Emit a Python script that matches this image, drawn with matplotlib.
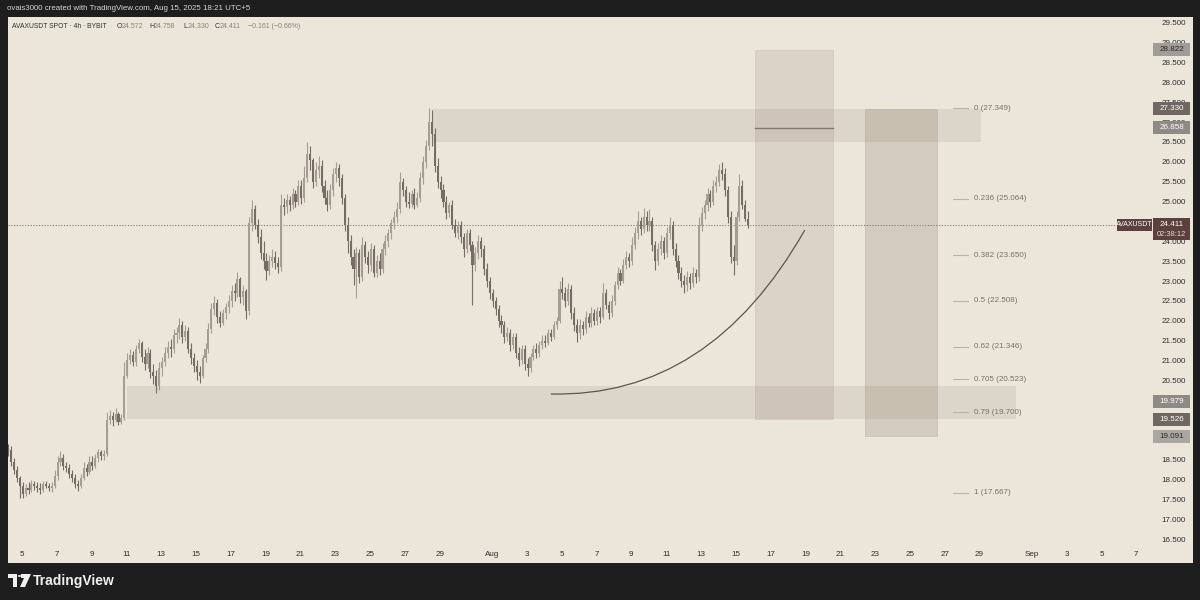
import matplotlib
matplotlib.use('Agg')
import matplotlib.pyplot as plt
import matplotlib.dates as mdates
import matplotlib.patches as mpatches
from matplotlib.path import Path
from matplotlib import transforms
import numpy as np
import pandas as pd

plt.rcParams['font.family'] = ['Liberation Sans', 'DejaVu Sans']

# ---- data (AVAXUSDT, 4h candles, local time UTC+5) ----
first_open = 18.80
closes = [
    18.75, 18.45, 18.25, 18.05, 17.85,                 # Jul 4
    17.65, 17.80, 17.75, 17.90, 17.85, 17.80,          # Jul 5
    17.75, 17.90, 17.85, 17.80, 17.85, 18.10,
    18.45, 18.55, 18.35, 18.30, 18.15, 18.05,
    17.90, 17.85, 18.05, 18.30, 18.20, 18.45,
    18.35, 18.55, 18.70, 18.60, 18.65, 19.50,
    19.60, 19.50, 19.65, 19.45, 19.55, 20.60,          # Jul 10
    21.00, 21.15, 20.95, 21.30, 21.45, 21.10,
    20.90, 21.20, 20.70, 20.60, 20.35, 20.80,
    20.95, 21.20, 21.35, 21.30, 21.65, 21.70,
    21.90, 21.60, 21.75, 21.30, 21.05, 20.85,
    20.70, 20.60, 21.05, 21.30, 21.80, 22.30,          # Jul 15
    22.45, 22.10, 21.95, 22.20, 22.35, 22.50,
    22.75, 22.70, 23.05, 22.60, 22.75, 22.25,
    24.45, 24.80, 24.40, 24.10, 23.70, 23.50,
    23.25, 23.50, 23.60, 23.45, 23.35, 24.90,
    24.85, 25.05, 24.90, 25.20, 25.00, 25.40,          # Jul 20
    25.10, 25.60, 26.20, 26.05, 25.50, 25.80,
    25.90, 25.40, 25.10, 24.90, 25.30, 25.70,
    25.85, 25.60, 25.10, 24.40, 24.00, 23.60,
    23.30, 23.70, 23.10, 23.90, 23.60, 23.40,
    23.80, 23.20, 23.50, 23.30, 23.80, 24.00,          # Jul 25
    24.20, 24.45, 24.60, 24.80, 25.50, 25.30,
    25.00, 24.95, 25.20, 24.90, 25.10, 25.60,
    26.00, 26.40, 27.00, 26.70, 25.90, 25.50,
    25.30, 25.00, 24.70, 24.90, 24.40, 24.20,
    24.40, 24.10, 23.80, 24.20, 23.90, 23.40,          # Jul 30
    23.70, 24.00, 23.80, 23.30, 23.00, 22.70,
    22.50, 22.30, 22.00, 21.90, 21.60, 21.70,          # Aug 1
    21.40, 21.60, 21.20, 21.00, 21.30, 20.90,
    20.80, 21.10, 21.30, 21.20, 21.40, 21.50,
    21.45, 21.70, 21.60, 21.90, 22.00, 22.80,
    22.70, 22.50, 22.80, 22.20, 21.90, 21.70,          # Aug 5
    21.90, 21.80, 22.10, 21.95, 22.20, 22.00,
    22.25, 22.10, 22.70, 22.40, 22.20, 22.50,
    22.90, 23.20, 23.00, 23.40, 23.60, 23.50,
    23.90, 24.20, 24.50, 24.30, 24.60, 24.40,
    24.50, 23.90, 23.50, 23.80, 24.00, 23.70,          # Aug 10
    24.20, 24.40, 23.80, 23.50, 23.20, 23.00,
    22.90, 23.10, 22.95, 23.20, 23.10, 24.40,
    24.70, 24.90, 25.20, 25.00, 25.40, 25.50,
    25.80, 25.70, 25.30, 24.60, 23.60, 23.50,
    24.60, 25.40, 24.90, 24.572, 24.411,               # Aug 15
]
highs = [
    18.90, 18.85, 18.55, 18.35, 18.10,
    17.95, 17.90, 17.95, 18.00, 17.98, 17.95,
    17.92, 17.98, 17.97, 17.92, 17.95, 18.25,
    18.60, 18.72, 18.65, 18.45, 18.40, 18.25,
    18.15, 18.00, 18.15, 18.45, 18.40, 18.60,
    18.60, 18.65, 18.78, 18.75, 18.75, 19.70,
    19.75, 19.70, 19.80, 19.70, 19.65, 20.95,
    21.20, 21.30, 21.25, 21.40, 21.55, 21.50,
    21.30, 21.35, 21.30, 20.90, 20.75, 20.95,
    21.10, 21.35, 21.50, 21.55, 21.80, 21.85,
    22.07, 22.00, 21.90, 21.85, 21.45, 21.20,
    21.00, 20.85, 21.15, 21.45, 21.95, 22.45,
    22.62, 22.55, 22.25, 22.30, 22.45, 22.65,
    22.90, 22.95, 23.23, 23.10, 22.90, 22.80,
    24.60, 25.03, 24.90, 24.55, 24.30, 24.00,
    23.70, 23.65, 23.80, 23.75, 23.60, 25.20,
    25.10, 25.20, 25.15, 25.35, 25.30, 25.55,
    25.55, 25.90, 26.50, 26.40, 26.10, 26.00,
    26.15, 26.05, 25.55, 25.30, 25.45, 25.85,
    26.00, 25.95, 25.70, 25.20, 24.60, 24.15,
    23.80, 23.85, 23.80, 24.10, 24.00, 23.75,
    23.95, 23.90, 23.65, 23.70, 23.95, 24.15,
    24.30, 24.55, 24.75, 25.00, 25.74, 25.60,
    25.40, 25.25, 25.30, 25.35, 25.25, 25.75,
    26.15, 26.55, 27.35, 27.30, 26.85, 26.10,
    25.65, 25.45, 25.15, 25.00, 25.05, 24.55,
    24.50, 24.50, 24.20, 24.30, 24.30, 24.00,
    23.85, 24.15, 24.10, 23.90, 23.45, 23.10,
    22.80, 22.60, 22.40, 22.15, 22.00, 21.85,
    21.80, 21.70, 21.70, 21.35, 21.40, 21.40,
    21.05, 21.20, 21.40, 21.45, 21.50, 21.65,
    21.65, 21.80, 21.80, 22.00, 22.10, 23.00,
    23.10, 22.85, 22.95, 22.90, 22.35, 22.05,
    22.05, 22.00, 22.25, 22.20, 22.35, 22.30,
    22.35, 22.35, 22.95, 22.80, 22.50, 22.65,
    23.00, 23.35, 23.30, 23.55, 23.75, 23.70,
    24.10, 24.35, 24.75, 24.60, 24.83, 24.75,
    24.80, 24.60, 24.00, 23.95, 24.15, 24.10,
    24.35, 24.62, 24.50, 23.95, 23.65, 23.35,
    23.15, 23.25, 23.20, 23.35, 23.30, 24.60,
    24.85, 25.05, 25.35, 25.30, 25.55, 25.65,
    25.95, 26.00, 25.85, 25.40, 24.75, 23.90,
    24.75, 25.70, 25.55, 25.05, 24.758,
]
lows = [
    18.60, 18.35, 18.15, 17.95, 17.55,
    17.55, 17.60, 17.65, 17.70, 17.75, 17.68,
    17.65, 17.70, 17.78, 17.72, 17.70, 17.80,
    18.00, 18.35, 18.25, 18.20, 18.05, 17.95,
    17.80, 17.72, 17.80, 18.00, 18.10, 18.15,
    18.25, 18.30, 18.45, 18.50, 18.50, 18.60,
    19.40, 19.35, 19.45, 19.38, 19.40, 19.50,
    20.55, 20.90, 20.85, 20.85, 21.20, 20.95,
    20.75, 20.80, 20.55, 20.40, 20.17, 20.25,
    20.60, 20.85, 21.05, 21.10, 21.20, 21.45,
    21.55, 21.45, 21.50, 21.20, 20.90, 20.70,
    20.50, 20.43, 20.55, 20.95, 21.20, 21.70,
    22.15, 21.95, 21.85, 21.90, 22.05, 22.20,
    22.35, 22.50, 22.60, 22.45, 22.40, 22.05,
    22.15, 24.25, 24.30, 23.95, 23.55, 23.30,
    23.03, 23.15, 23.35, 23.30, 23.20, 23.25,
    24.65, 24.70, 24.75, 24.80, 24.85, 24.90,
    24.95, 25.00, 25.50, 25.80, 25.35, 25.40,
    25.60, 25.25, 24.95, 24.75, 24.80, 25.15,
    25.50, 25.40, 24.95, 24.25, 23.70, 23.40,
    22.90, 22.57, 22.95, 23.00, 23.45, 23.20,
    23.25, 23.10, 23.10, 23.15, 23.20, 23.65,
    23.85, 24.05, 24.30, 24.45, 24.70, 25.15,
    24.85, 24.83, 24.85, 24.80, 24.85, 25.00,
    25.45, 25.85, 26.30, 26.40, 25.75, 25.35,
    25.10, 24.85, 24.55, 24.60, 24.30, 24.10,
    24.05, 23.95, 23.60, 23.70, 23.75, 22.40,
    23.25, 23.55, 23.60, 23.15, 22.85, 22.55,
    22.35, 22.15, 21.85, 21.70, 21.45, 21.50,
    21.25, 21.30, 21.05, 20.85, 20.90, 20.75,
    20.60, 20.70, 21.00, 21.05, 21.10, 21.30,
    21.35, 21.40, 21.50, 21.55, 21.80, 21.95,
    22.55, 22.35, 22.40, 22.05, 21.75, 21.47,
    21.55, 21.65, 21.70, 21.85, 21.85, 21.90,
    21.90, 21.95, 22.05, 22.30, 22.05, 22.10,
    22.40, 22.80, 22.90, 22.95, 23.30, 23.35,
    23.40, 23.80, 24.05, 24.15, 24.20, 24.25,
    24.25, 23.75, 23.27, 23.40, 23.65, 23.55,
    23.60, 24.05, 23.65, 23.35, 23.05, 22.85,
    22.70, 22.75, 22.80, 22.85, 22.95, 23.00,
    24.25, 24.55, 24.75, 24.85, 24.90, 25.25,
    25.40, 25.55, 25.15, 24.45, 23.45, 23.15,
    23.40, 24.50, 24.80, 24.50, 24.330,
]
first_candle = '2025-07-04 05:00'
last_price = 24.411

# horizontal zones (supply / demand)
zone_starts = ['2025-07-28 13:00', '2025-07-11 01:00']
zone_ends = ['2025-08-29 02:00', '2025-08-31 02:00']
zone_tops = [27.33, 20.36]
zone_bottoms = [26.50, 19.52]

# projection boxes
box_starts = ['2025-08-16 02:00', '2025-08-22 10:00']
box_ends = ['2025-08-20 14:00', '2025-08-26 13:00']
box_tops = [28.822, 27.330]
box_bottoms = [19.526, 19.091]
box_lines = [26.858, 19.979]

# fibonacci retracement
fib_ratios = ['0', '0.236', '0.382', '0.5', '0.62', '0.705', '0.79', '1']
fib_prices = [27.349, 25.064, 23.650, 22.508, 21.346, 20.523, 19.700, 17.667]
fib_start, fib_end, fib_text = '2025-08-27 11:00', '2025-08-28 08:00', '2025-08-28 16:00'

# curved projection line: start, control, end
curve_times = ['2025-08-04 09:00', '2025-08-13 12:00', '2025-08-18 23:00']
curve_prices = [20.157, 20.06, 24.28]

# price scale labels
scale_prices = [28.822, 27.330, 26.858, 19.979, 19.526, 19.091]
scale_face = ['#a19c97', '#6f6862', '#8f8a85', '#8f8a85', '#6f6862', '#aba6a1']
scale_text = ['#2a2a2a', 'white', 'white', 'white', 'white', '#2a2a2a']

# ---- figure ----
BG = '#1e1e1e'
PANEL = '#ebe5da'
W, H = 1200, 600


def fx(px):
    return px / W


def fy(py):
    return 1 - py / H


fig = plt.figure(figsize=(12, 6), dpi=100, facecolor=BG)
fig.patches.append(mpatches.Rectangle((fx(8), fy(563)), fx(1193 - 8), (563 - 17) / H,
                                      transform=fig.transFigure, fc=PANEL, ec='none', zorder=-5))

ax = fig.add_axes([fx(8), fy(540), fx(1150 - 8), (540 - 17) / H])
ax.set_facecolor('none')
for s in ax.spines.values():
    s.set_visible(False)

ax.set_xlim(pd.Timestamp('2025-07-04 04:41'), pd.Timestamp('2025-09-07 19:00'))
ax.set_ylim(16.483, 29.643)

# candles
t = mdates.date2num(pd.date_range(first_candle, periods=len(closes), freq='4h'))
c = np.array(closes)
o = np.array([first_open] + closes[:-1])
up = c >= o
cols = np.where(up, '#a59d93', '#756d65')
ax.vlines(t, lows, highs, colors=cols, lw=0.8, zorder=3)
ax.bar(t, np.maximum(np.abs(c - o), 0.03), bottom=np.minimum(o, c), width=0.12,
       color=cols, lw=0, zorder=3)

# zones
for s, e, top, bot in zip(zone_starts, zone_ends, zone_tops, zone_bottoms):
    x0 = mdates.date2num(pd.Timestamp(s))
    x1 = mdates.date2num(pd.Timestamp(e))
    ax.add_patch(mpatches.Rectangle((x0, bot), x1 - x0, top - bot, fc='#7a6e5e',
                                    alpha=0.13, ec='none', zorder=4))

# projection boxes
for i, (s, e, top, bot) in enumerate(zip(box_starts, box_ends, box_tops, box_bottoms)):
    x0 = mdates.date2num(pd.Timestamp(s))
    x1 = mdates.date2num(pd.Timestamp(e))
    ax.add_patch(mpatches.Rectangle((x0, bot), x1 - x0, top - bot, fc='#8a7b66',
                                    alpha=0.17 + 0.07 * i, ec='#8a7b66', lw=0.6, zorder=4))
x0 = mdates.date2num(pd.Timestamp(box_starts[0]))
x1 = mdates.date2num(pd.Timestamp(box_ends[0]))
ax.plot([x0, x1], [box_lines[0], box_lines[0]], color='#857869', lw=1.0, zorder=5)

# fib levels
f0 = mdates.date2num(pd.Timestamp(fib_start))
f1 = mdates.date2num(pd.Timestamp(fib_end))
ft = mdates.date2num(pd.Timestamp(fib_text))
for r, p in zip(fib_ratios, fib_prices):
    ax.plot([f0, f1], [p, p], color='#bcb2a6', lw=0.8, zorder=5)
    ax.text(ft, p, f'{r} ({p:.3f})', fontsize=5.8, color='#7a6f66', va='center', ha='left', zorder=6)

# curve
cx = mdates.date2num(pd.to_datetime(curve_times))
path = Path(list(zip(cx, curve_prices)), [Path.MOVETO, Path.CURVE3, Path.CURVE3])
ax.add_patch(mpatches.PathPatch(path, fc='none', ec='#5e554d', lw=0.9, zorder=6))

# last price dotted line
ax.axhline(last_price, xmin=0, xmax=(1117 - 8) / (1150 - 8), color='#8a7d72', lw=0.8,
           ls=(0, (1, 1.5)), zorder=2)

# axes ticks
tick_dates, tick_labels = [], []
for d in range(5, 30, 2):
    tick_dates.append(pd.Timestamp(2025, 7, d))
    tick_labels.append(str(d))
tick_dates.append(pd.Timestamp(2025, 8, 1))
tick_labels.append('Aug')
for d in range(3, 30, 2):
    tick_dates.append(pd.Timestamp(2025, 8, d))
    tick_labels.append(str(d))
tick_dates.append(pd.Timestamp(2025, 9, 1))
tick_labels.append('Sep')
for d in (3, 5, 7):
    tick_dates.append(pd.Timestamp(2025, 9, d))
    tick_labels.append(str(d))
ax.set_xticks(mdates.date2num(tick_dates))
ax.set_xticklabels(tick_labels)
ax.tick_params(axis='x', length=0, pad=8, labelsize=5.8, labelcolor='#2f2f2f')

ax.yaxis.tick_right()
ax.set_yticks(np.arange(16.5, 29.51, 0.5))
ax.yaxis.set_major_formatter(plt.FuncFormatter(lambda v, _: f'{v:.3f}'))
ax.tick_params(axis='y', length=0, pad=8, labelsize=5.8, labelcolor='#2f2f2f')

# price scale boxes
blend = transforms.blended_transform_factory(fig.transFigure, ax.transData)
bh = 13 / 39.74
for p, fc, tc in zip(scale_prices, scale_face, scale_text):
    ax.add_patch(mpatches.Rectangle((fx(1153), p - bh / 2), fx(37), bh, transform=blend,
                                    fc=fc, ec='none', clip_on=False, zorder=10))
    ax.text(fx(1171.5), p, f'{p:.3f}', transform=blend, fontsize=5.8, color=tc,
            ha='center', va='center', clip_on=False, zorder=11)

# last price box
ph = 22 / 39.74
ax.add_patch(mpatches.Rectangle((fx(1153), last_price - ph + 6.5 / 39.74), fx(37), ph,
                                transform=blend, fc='#5c403d', ec='none', clip_on=False, zorder=10))
ax.text(fx(1171.5), last_price, f'{last_price:.3f}', transform=blend, fontsize=5.8,
        color='white', ha='center', va='center', zorder=11)
ax.text(fx(1171.5), last_price - 10 / 39.74, '02:38:12', transform=blend, fontsize=5.4,
        color='#e8dcd8', ha='center', va='center', zorder=11)
ax.add_patch(mpatches.Rectangle((fx(1117), last_price - 6 / 39.74), fx(35), 12 / 39.74,
                                transform=blend, fc='#5c403d', ec='none', clip_on=False, zorder=10))
ax.text(fx(1134.5), last_price, 'AVAXUSDT', transform=blend, fontsize=5.0, color='white',
        ha='center', va='center', zorder=11)

# header texts
fig.text(fx(7), fy(9), 'ovais3000 created with TradingView.com, Aug 15, 2025 18:21 UTC+5',
         fontsize=5.7, color='#d6d6d6', va='center')
fig.text(fx(12), fy(27), 'AVAXUSDT SPOT · 4h · BYBIT', fontsize=4.9, color='#333333', va='center')
ohlc_x = [117, 149, 183, 215]
ohlc_k = ['O', 'H', 'L', 'C']
ohlc_v = [24.572, 24.758, 24.330, 24.411]
for px, k, v in zip(ohlc_x, ohlc_k, ohlc_v):
    fig.text(fx(px), fy(27), k, fontsize=5.0, color='#333333', va='center')
    fig.text(fx(px + 4.5), fy(27), f'{v:.3f}', fontsize=5.0, color='#8c8178', va='center')
fig.text(fx(248), fy(27), '\u22120.161 (\u22120.66%)', fontsize=5.0, color='#8c8178', va='center')

# TradingView logo
logo = [
    [(8, 574), (17, 574), (17, 587), (13, 587), (13, 578), (8, 578)],
    [(21, 574), (31, 574), (25, 587), (20, 587), (24, 578), (21, 578)],
]
for poly in logo:
    fig.patches.append(mpatches.Polygon([(fx(a), fy(b)) for a, b in poly], closed=True,
                                        transform=fig.transFigure, fc='#f0f0f0', ec='none'))
fig.patches.append(mpatches.Circle((fx(19.5), fy(576)), 1.8 / W, transform=fig.transFigure,
                                   fc='#f0f0f0', ec='none'))
fig.text(fx(33), fy(580.5), 'TradingView', fontsize=10, color='#f0f0f0', va='center',
         fontweight='bold')

fig.savefig('out.png', dpi=100, facecolor=BG)
